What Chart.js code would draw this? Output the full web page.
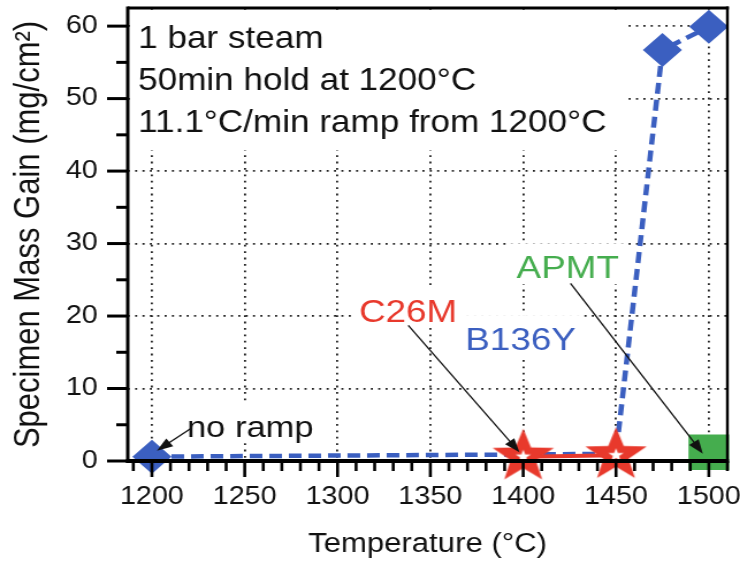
<!DOCTYPE html>
<html>
<head>
<meta charset="utf-8">
<script src="https://cdn.jsdelivr.net/npm/chart.js@4"></script>
<style>
  html, body { margin: 0; padding: 0; background: #fff; overflow: hidden; }
  /* the original figure is stretched horizontally, so draw narrow and stretch */
  #wrap { width: 643px; height: 561px; transform: scaleX(1.1509); transform-origin: 0 0; }
</style>
</head>
<body>
<div id="wrap"><canvas id="chart" width="643" height="561"></canvas></div>
<script>
// Mass gain vs temperature, steam ramp test

const tempB136Y = [1200, 1400, 1450, 1475, 1500];
const gainB136Y = [0.6, 0.9, 1.0, 56.7, 59.9];
const tempC26M = [1400, 1450];
const gainC26M = [0.6, 0.8];
const tempAPMT = [1500];
const gainAPMT = [1.2];

const xTicks = [1200, 1250, 1300, 1350, 1400, 1450, 1500];
const yTicks = [0, 10, 20, 30, 40, 50, 60];

const conditionLines = ['1 bar steam', '50min hold at 1200°C', '11.1°C/min ramp from 1200°C'];

const FONT = '"Liberation Sans", Arial, Helvetica, sans-serif';
Chart.defaults.font.family = FONT;
Chart.defaults.color = '#111';

const BLUE = '#3b5fc0';
const RED = '#e8392c';
const GREEN = '#45ad4e';

// label text, colour, anchor (data units), arrow from -> to (data units)
const labels = [
    { text: 'no ramp', color: '#111', size: 30, x: 1253, y: 3.3, arrow: [1221.6, 4.6, 1202.7, 1.4] },
    { text: 'C26M', color: RED, size: 32, x: 1338, y: 19.2, arrow: [1338.1, 18.7, 1398.0, 1.2] },
    { text: 'B136Y', color: BLUE, size: 32, x: 1398.6, y: 15.3 },
    { text: 'APMT', color: GREEN, size: 32, x: 1424, y: 25.2, arrow: [1425.5, 24.5, 1496.8, 1.0] }
];

function makeStar() {
    const c = document.createElement('canvas');
    c.width = 60; c.height = 60;
    const g = c.getContext('2d');
    function star(R, r, fill) {
        g.beginPath();
        for (let i = 0; i < 10; i++) {
            const rad = i % 2 === 0 ? R : r;
            const ang = -Math.PI / 2 + i * Math.PI / 5;
            const px = 30 + rad * Math.cos(ang), py = 30 + rad * Math.sin(ang);
            if (i === 0) g.moveTo(px, py); else g.lineTo(px, py);
        }
        g.closePath();
        g.fillStyle = fill;
        g.fill();
    }
    star(28, 11.5, RED);
    star(7, 2.8, '#fff');
    return c;
}

function pts(xs, ys) {
    return xs.map((v, i) => ({ x: v, y: ys[i] }));
}

function arrow(ctx, x1, y1, x2, y2) {
    const ang = Math.atan2(y2 - y1, x2 - x1);
    const len = 14, hw = 5;
    ctx.beginPath();
    ctx.moveTo(x1, y1);
    ctx.lineTo(x2 - Math.cos(ang) * len * 0.8, y2 - Math.sin(ang) * len * 0.8);
    ctx.stroke();
    ctx.beginPath();
    ctx.moveTo(x2, y2);
    ctx.lineTo(x2 - Math.cos(ang) * len - Math.sin(ang) * hw, y2 - Math.sin(ang) * len + Math.cos(ang) * hw);
    ctx.lineTo(x2 - Math.cos(ang) * len + Math.sin(ang) * hw, y2 - Math.sin(ang) * len - Math.cos(ang) * hw);
    ctx.closePath();
    ctx.fill();
}

const annotationPlugin = {
    id: 'annotationPlugin',
    beforeDatasetsDraw(chart) {
        const { ctx, chartArea: a, scales: { x, y } } = chart;
        ctx.save();
        // test conditions block
        ctx.font = '30.5px ' + FONT;
        const w = Math.max(...conditionLines.map(t => ctx.measureText(t).width));
        ctx.fillStyle = '#fff';
        ctx.fillRect(a.left + 2, a.top + 2, 9 + w + 14, 140);
        ctx.fillStyle = '#111';
        ctx.textAlign = 'left';
        ctx.textBaseline = 'alphabetic';
        conditionLines.forEach((t, i) => ctx.fillText(t, a.left + 9, a.top + 40 + i * 42));

        // series labels
        labels.forEach(l => {
            ctx.font = l.size + 'px ' + FONT;
            const tw = ctx.measureText(l.text).width;
            const cx = x.getPixelForValue(l.x), by = y.getPixelForValue(l.y);
            const cap = l.size * 0.72;
            ctx.fillStyle = '#fff';
            ctx.fillRect(cx - tw / 2 - 6, by - cap - 12, tw + 12, cap + 18);
            ctx.fillStyle = l.color;
            ctx.textAlign = 'center';
            ctx.fillText(l.text, cx, by);
        });
        ctx.restore();
    },
    afterDatasetsDraw(chart) {
        const { ctx, chartArea: a, scales: { x, y } } = chart;
        ctx.save();
        // arrows
        ctx.strokeStyle = '#111';
        ctx.fillStyle = '#111';
        ctx.lineWidth = 1.3;
        labels.filter(l => l.arrow).forEach(l => {
            const [x1, y1, x2, y2] = l.arrow;
            arrow(ctx, x.getPixelForValue(x1), y.getPixelForValue(y1), x.getPixelForValue(x2), y.getPixelForValue(y2));
        });

        // frame
        ctx.strokeStyle = '#000';
        ctx.lineCap = 'butt';
        ctx.lineWidth = 3;
        ctx.beginPath(); ctx.moveTo(a.left, a.top); ctx.lineTo(a.right + 1.3, a.top); ctx.stroke();
        ctx.lineWidth = 4;
        ctx.beginPath(); ctx.moveTo(a.left - 1.5, a.bottom); ctx.lineTo(a.right + 1.3, a.bottom); ctx.stroke();
        ctx.lineWidth = 3;
        ctx.beginPath(); ctx.moveTo(a.left, a.top - 1.5); ctx.lineTo(a.left, a.bottom + 2); ctx.stroke();
        ctx.lineWidth = 2.4;
        ctx.beginPath(); ctx.moveTo(a.right, a.top - 1.5); ctx.lineTo(a.right, a.bottom + 2); ctx.stroke();

        // x ticks every 10, major every 50
        ctx.lineWidth = 2.6;
        for (let v = 1190; v <= 1510; v += 10) {
            const px = x.getPixelForValue(v);
            const len = v % 50 === 0 ? 16 : 10;
            ctx.beginPath(); ctx.moveTo(px, a.bottom); ctx.lineTo(px, a.bottom + len); ctx.stroke();
        }
        // y ticks every 5, major every 10
        ctx.lineWidth = 3;
        for (let v = 0; v <= 60; v += 5) {
            const py = y.getPixelForValue(v);
            const len = v % 10 === 0 ? 18 : 10;
            ctx.beginPath(); ctx.moveTo(a.left, py); ctx.lineTo(a.left - len, py); ctx.stroke();
        }
        ctx.restore();
    }
};

const dotted = { lineWidth: 1.8, dash: [1.8, 4.6] };

new Chart(document.getElementById('chart'), {
    type: 'scatter',
    data: {
        datasets: [
            {
                label: 'C26M',
                data: pts(tempC26M, gainC26M),
                showLine: true,
                borderColor: RED,
                borderWidth: 4,
                pointStyle: makeStar(),
                pointRadius: 28,
                clip: false
            },
            {
                label: 'APMT',
                data: pts(tempAPMT, gainAPMT),
                pointStyle: 'rect',
                pointRadius: 25,
                backgroundColor: GREEN,
                borderColor: GREEN,
                borderWidth: 0,
                clip: false
            },
            {
                label: 'B136Y',
                data: pts(tempB136Y, gainB136Y),
                showLine: true,
                borderColor: BLUE,
                borderWidth: 4.5,
                borderDash: [11, 6],
                pointStyle: 'rectRot',
                pointRadius: [17, 0, 0, 17, 17],
                backgroundColor: BLUE,
                pointBorderWidth: 0,
                clip: false
            }
        ]
    },
    options: {
        responsive: false,
        animation: false,
        events: [],
        layout: { autoPadding: false, padding: { top: 8, right: 11, left: 0, bottom: 0 } },
        plugins: {
            legend: { display: false },
            tooltip: { enabled: false }
        },
        scales: {
            x: {
                type: 'linear',
                min: 1187,
                max: 1510,
                afterBuildTicks: s => { s.ticks = xTicks.map(v => ({ value: v })); },
                afterFit: s => { s.height = 100; s.paddingLeft = 0; s.paddingRight = 0; },
                border: { display: false, dash: dotted.dash },
                grid: {
                    drawTicks: false,
                    color: c => (c.tick && xTicks.includes(c.tick.value)) ? '#222' : 'transparent',
                    lineWidth: dotted.lineWidth
                },
                ticks: {
                    autoSkip: false,
                    maxRotation: 0,
                    padding: 21,
                    color: '#111',
                    font: { size: 25 },
                    callback: v => String(v)
                },
                title: {
                    display: true,
                    text: 'Temperature (°C)',
                    color: '#111',
                    font: { size: 27 },
                    padding: { top: 0, bottom: 0 }
                }
            },
            y: {
                type: 'linear',
                min: 0,
                max: 62.5,
                afterBuildTicks: s => { s.ticks = yTicks.map(v => ({ value: v })); },
                afterFit: s => { s.width = 111; s.paddingTop = 0; s.paddingBottom = 0; },
                border: { display: false, dash: dotted.dash },
                grid: {
                    drawTicks: false,
                    color: c => (c.tick && c.tick.value > 0) ? '#222' : 'transparent',
                    lineWidth: dotted.lineWidth
                },
                ticks: {
                    padding: 26,
                    color: '#111',
                    font: { size: 25 },
                    callback: v => String(v)
                },
                title: {
                    display: true,
                    text: 'Specimen Mass Gain (mg/cm²)',
                    color: '#111',
                    font: { size: 31 },
                    padding: { top: 7, bottom: 0 }
                }
            }
        }
    },
    plugins: [annotationPlugin]
});
</script>
</body>
</html>
